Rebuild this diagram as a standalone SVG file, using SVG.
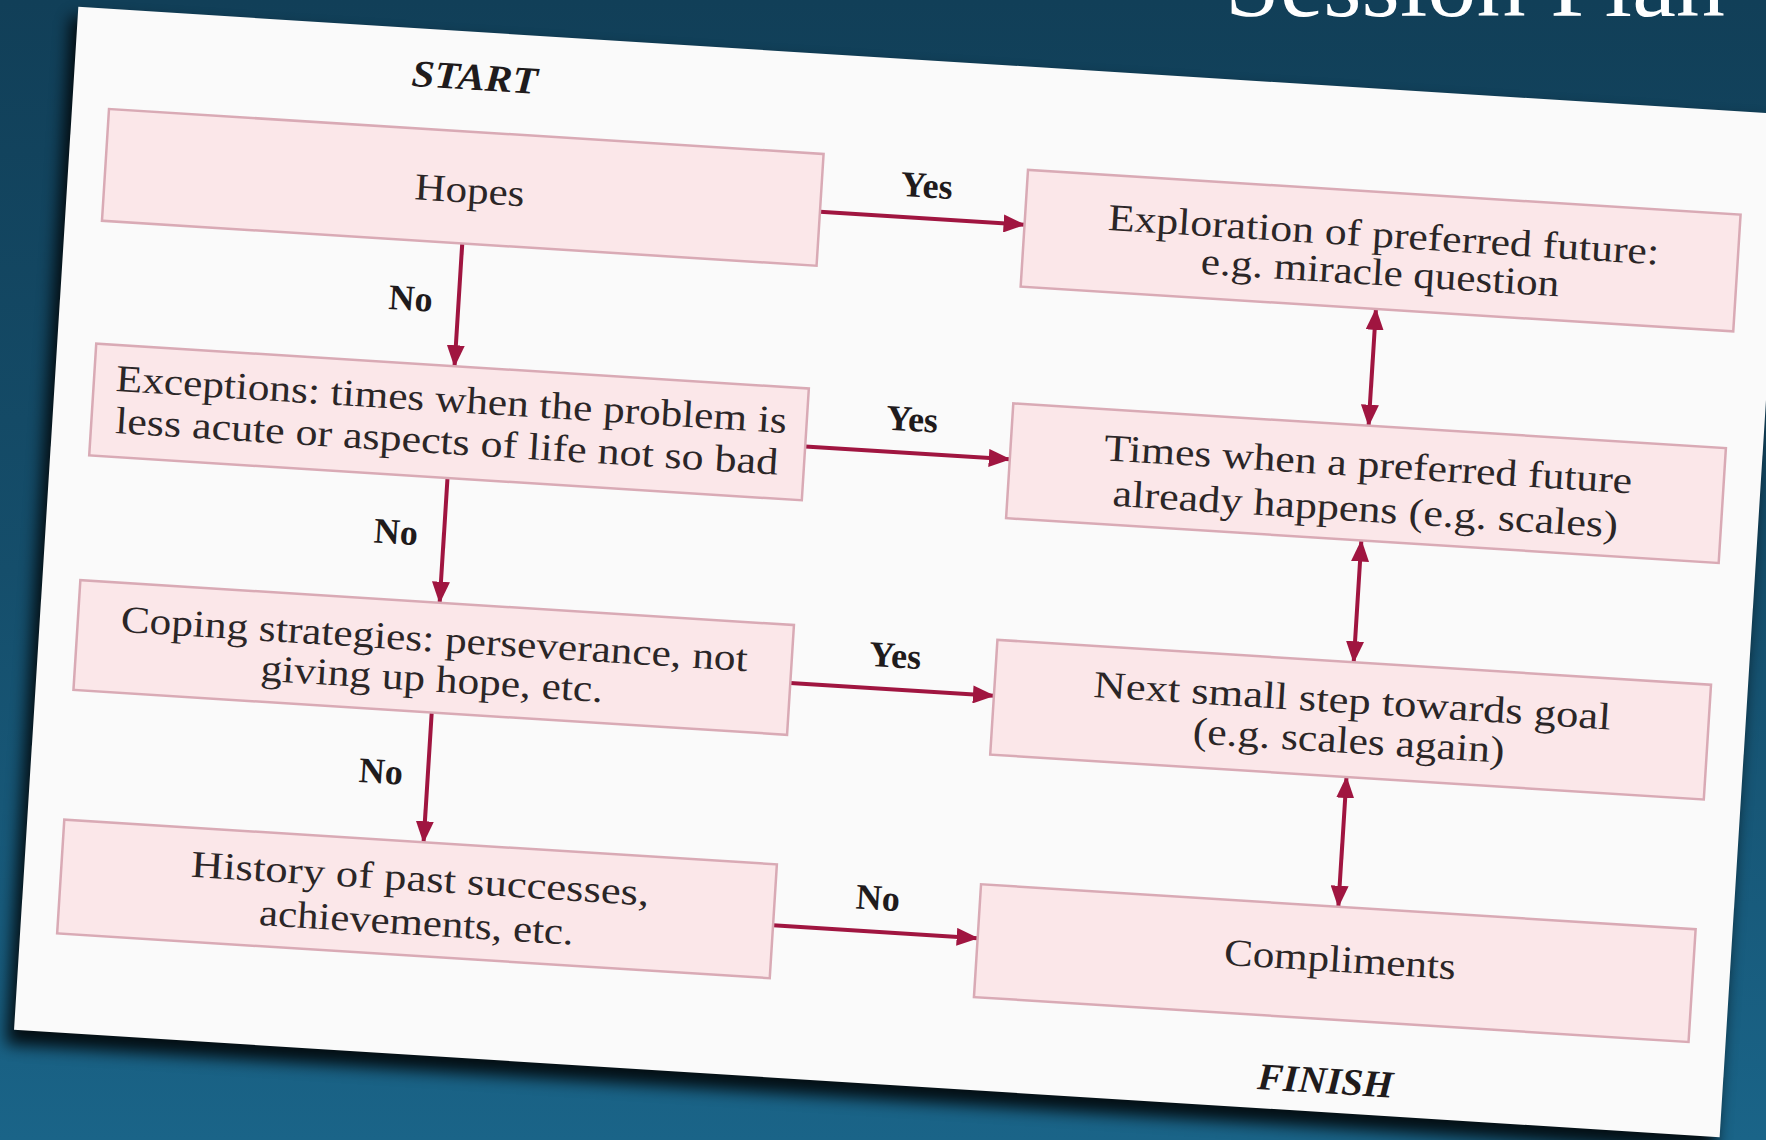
<svg xmlns="http://www.w3.org/2000/svg" width="1766" height="1140" viewBox="0 0 1766 1140">
<defs>
  <linearGradient id="bg" x1="0" y1="0" x2="0" y2="1">
    <stop offset="0" stop-color="#113f58"/>
    <stop offset="0.5" stop-color="#154e6b"/>
    <stop offset="1" stop-color="#1a6488"/>
  </linearGradient>
  <filter id="blur" x="-10%" y="-10%" width="120%" height="120%">
    <feGaussianBlur stdDeviation="8"/>
  </filter>
  <marker id="ah" markerUnits="userSpaceOnUse" markerWidth="22" markerHeight="18" refX="21" refY="9" orient="auto-start-reverse">
    <path d="M0,0 L22,9 L0,18 Z" fill="#a01540"/>
  </marker>
  <style>
    .box{fill:#fbe7e9;stroke:#d9aab5;stroke-width:2.5}
    .t{font-family:"Liberation Serif","Times New Roman",serif;font-size:38px;fill:#2b2627;text-anchor:middle}
    .lbl{font-family:"Liberation Serif","Times New Roman",serif;font-size:36px;font-weight:bold;fill:#1f1b1c;text-anchor:middle}
    .se{font-family:"Liberation Serif","Times New Roman",serif;font-size:38px;font-weight:bold;font-style:italic;fill:#1f1b1c;text-anchor:middle}
    .c{stroke:#a01540;stroke-width:4;fill:none}
  </style>
</defs>
<rect x="0" y="0" width="1766" height="1140" fill="url(#bg)"/>
<text x="1725" y="16" font-family="Liberation Serif, serif" font-size="96" fill="#ffffff" text-anchor="end" textLength="500" lengthAdjust="spacingAndGlyphs">Session Plan</text>
<g transform="translate(109,109) rotate(3.6)">
  <rect x="-44" y="-90" width="1712" height="1030" fill="#000" opacity="0.85" filter="url(#blur)"/>
  <rect x="-37" y="-100" width="1709" height="1025" fill="#fafafa"/>
  <text class="se" x="363" y="-42" textLength="126" lengthAdjust="spacingAndGlyphs">START</text>
  <text class="se" x="1275" y="906" textLength="136" lengthAdjust="spacingAndGlyphs">FINISH</text>

  <g id="connectors">
    <path class="c" d="M361,112 L361,235" marker-end="url(#ah)"/>
    <path class="c" d="M361,347 L361,472" marker-end="url(#ah)"/>
    <path class="c" d="M360,582 L360,712" marker-end="url(#ah)"/>
    <path class="c" d="M716,58 L921,58" marker-end="url(#ah)"/>
    <path class="c" d="M716,293 L921,293" marker-end="url(#ah)"/>
    <path class="c" d="M716,530 L920,530" marker-end="url(#ah)"/>
    <path class="c" d="M714,773 L919,773" marker-end="url(#ah)"/>
    <path class="c" d="M1277,120 L1277,237" marker-start="url(#ah)" marker-end="url(#ah)"/>
    <path class="c" d="M1277,352 L1277,474" marker-start="url(#ah)" marker-end="url(#ah)"/>
    <path class="c" d="M1277,589 L1277,719" marker-start="url(#ah)" marker-end="url(#ah)"/>
    <text class="lbl" x="313" y="182">No</text>
    <text class="lbl" x="313" y="416">No</text>
    <text class="lbl" x="313" y="656">No</text>
    <text class="lbl" x="821" y="37">Yes</text>
    <text class="lbl" x="821" y="271">Yes</text>
    <text class="lbl" x="819" y="508">Yes</text>
    <text class="lbl" x="817" y="751">No</text>
  </g>

  <g id="n-hopes">
    <rect class="box" x="0" y="0" width="716" height="112"/>
    <text class="t" x="365" y="71" textLength="110" lengthAdjust="spacingAndGlyphs">Hopes</text>
  </g>
  <g id="n-exceptions">
    <rect class="box" x="2" y="235" width="714" height="112"/>
    <text class="t" x="360" y="281" textLength="672" lengthAdjust="spacingAndGlyphs">Exceptions: times when the problem is</text>
    <text class="t" x="358" y="323" textLength="664" lengthAdjust="spacingAndGlyphs">less acute or aspects of life not so bad</text>
  </g>
  <g id="n-coping">
    <rect class="box" x="1" y="472" width="715" height="110"/>
    <text class="t" x="358" y="521" textLength="628" lengthAdjust="spacingAndGlyphs">Coping strategies: perseverance, not</text>
    <text class="t" x="358" y="561" textLength="343" lengthAdjust="spacingAndGlyphs">giving up hope, etc.</text>
  </g>
  <g id="n-history">
    <rect class="box" x="0" y="712" width="714" height="114"/>
    <text class="t" x="359" y="761" textLength="459" lengthAdjust="spacingAndGlyphs">History of past successes,</text>
    <text class="t" x="358" y="805" textLength="315" lengthAdjust="spacingAndGlyphs">achievements, etc.</text>
  </g>
  <g id="n-exploration">
    <rect class="box" x="921" y="3" width="714" height="117"/>
    <text class="t" x="1280" y="58" textLength="552" lengthAdjust="spacingAndGlyphs">Exploration of preferred future:</text>
    <text class="t" x="1279" y="96" textLength="359" lengthAdjust="spacingAndGlyphs">e.g. miracle question</text>
  </g>
  <g id="n-times">
    <rect class="box" x="921" y="237" width="714" height="115"/>
    <text class="t" x="1279" y="288" textLength="529" lengthAdjust="spacingAndGlyphs">Times when a preferred future</text>
    <text class="t" x="1279" y="333" textLength="506" lengthAdjust="spacingAndGlyphs">already happens (e.g. scales)</text>
  </g>
  <g id="n-next">
    <rect class="box" x="920" y="474" width="715" height="115"/>
    <text class="t" x="1278" y="525" textLength="518" lengthAdjust="spacingAndGlyphs">Next small step towards goal</text>
    <text class="t" x="1277" y="565" textLength="312" lengthAdjust="spacingAndGlyphs">(e.g. scales again)</text>
  </g>
  <g id="n-compliments">
    <rect class="box" x="919" y="719" width="716" height="113"/>
    <text class="t" x="1282" y="784" textLength="232" lengthAdjust="spacingAndGlyphs">Compliments</text>
  </g>
</g>
</svg>
